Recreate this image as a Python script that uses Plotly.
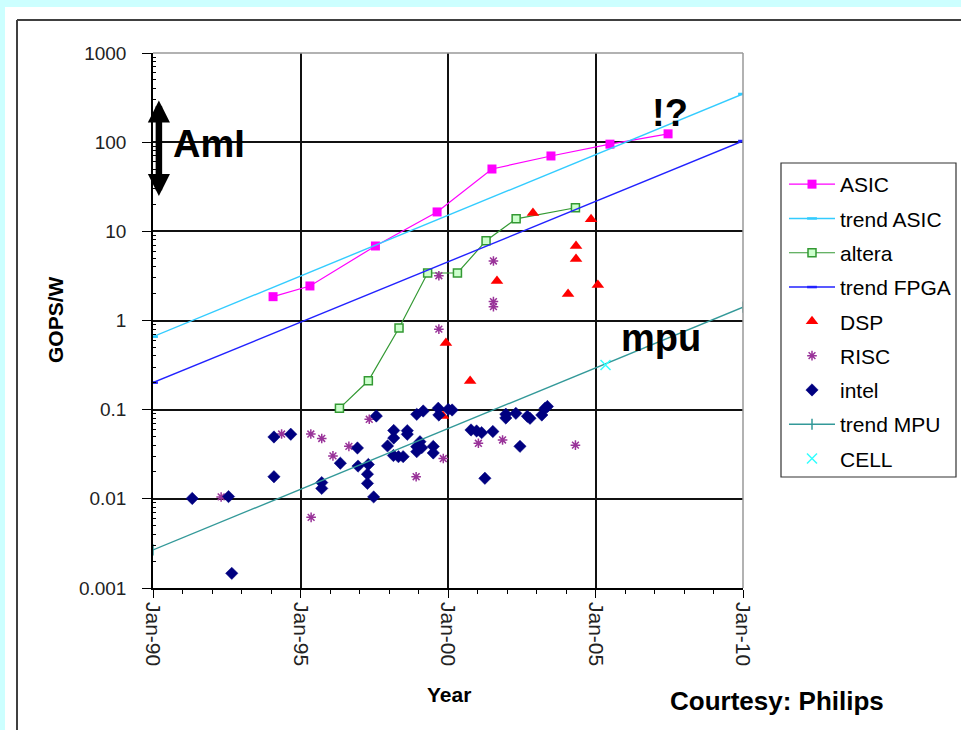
import plotly.graph_objects as go

# ---------------- data ----------------
asic_year = [1994.07, 1995.32, 1997.54, 1999.63, 2001.49, 2003.49, 2005.49, 2007.46]
asic_val = [1.85, 2.44, 6.85, 16.5, 50, 70, 95, 124]

trend_year = [1990, 2010]
trend_asic = [0.658, 347]
trend_fpga = [0.201, 103]
trend_mpu = [0.00267, 1.41]

altera_year = [1996.32, 1997.30, 1998.34, 1999.31, 2000.32, 2001.29, 2002.31, 2004.32]
altera_val = [0.1035, 0.211, 0.824, 3.41, 3.41, 7.85, 13.8, 18.4]

dsp_year = [2002.88, 2004.85, 2004.34, 2004.34, 2001.66, 2004.07, 2005.08, 1999.93, 2000.75, 1999.83]
dsp_val = [16.1, 13.7, 6.85, 4.9, 2.77, 1.98, 2.5, 0.56, 0.21, 0.085]

risc_year = [1992.31, 1994.36, 1995.35, 1995.72, 1996.10, 1996.64, 1997.33, 1995.36, 1998.92,
             1999.84, 2001.03, 2001.85, 2004.32, 1999.69, 1999.69, 2001.54, 2001.54, 2001.54]
risc_val = [0.0105, 0.0533, 0.0533, 0.0475, 0.0303, 0.0388, 0.078, 0.0062, 0.0177,
            0.0283, 0.042, 0.0457, 0.040, 0.80, 3.18, 4.65, 1.63, 1.43]

intel_year = [1991.33, 1992.56, 1992.67, 1994.10, 1994.10, 1994.67, 1995.72, 1995.72, 1996.35,
              1996.93, 1996.95, 1997.30, 1997.27, 1997.27, 1997.48, 1997.57, 1997.95, 1998.16,
              1998.16, 1998.15, 1998.32, 1998.48, 1998.62, 1998.62, 1998.94, 1999.16, 1998.94,
              1998.94, 1999.05, 1999.11, 1999.50, 1999.50, 1999.67, 1999.69, 2000.14, 2000.78,
              2000.97, 2001.14, 2001.52, 2001.25, 2001.96, 2002.30, 2001.96, 2002.69, 2002.78,
              2002.44, 2003.29, 2003.37, 2003.18, 2000.01]
intel_val = [0.0101, 0.0106, 0.00146, 0.0494, 0.0177, 0.0530, 0.0152, 0.0131, 0.0251,
             0.0372, 0.0233, 0.0243, 0.0189, 0.0149, 0.0105, 0.0849, 0.0392, 0.0584,
             0.0481, 0.0306, 0.0297, 0.0297, 0.0581, 0.0530, 0.0887, 0.0966, 0.0385,
             0.0338, 0.0437, 0.0375, 0.0387, 0.0327, 0.1036, 0.0871, 0.0991, 0.0592,
             0.0577, 0.0552, 0.0569, 0.0170, 0.0889, 0.0910, 0.0807, 0.0843, 0.0800,
             0.0388, 0.1036, 0.1086, 0.0871, 0.1009]

cell_year = [2005.34]
cell_val = [0.317]

x_ticks = [1990, 1995, 2000, 2005, 2010]
x_labels = ["Jan-90", "Jan-95", "Jan-00", "Jan-05", "Jan-10"]
x_minor = list(range(1990, 2011))
y_ticks = [0.001, 0.01, 0.1, 1, 10, 100, 1000]
y_labels = ["0.001", "0.01", "0.1", "1", "10", "100", "1000"]
y_minor = [m * d for d in y_ticks[:-1] for m in range(2, 10)]

FONT = "Liberation Sans, Arial, sans-serif"

fig = go.Figure()

def add(name, x, y, mode, color, symbol=None, size=8, lw=1.2, mfill=None, mline=None, mlw=0):
    marker = dict(symbol=symbol, size=size, color=mfill if mfill else color,
                  line=dict(color=mline if mline else color, width=mlw))
    fig.add_trace(go.Scatter(x=x, y=y, name=name, mode=mode, legendgroup=name,
                             line=dict(color=color, width=lw), marker=marker))

add("ASIC", asic_year, asic_val, "lines+markers", "#FF00FF", "square", 9)
add("trend ASIC", trend_year, trend_asic, "lines+markers", "#33CCFF", "line-ew-open", 7, 1.4, mlw=2.5)
add("altera", altera_year, altera_val, "lines+markers", "#339933", "square", 8,
    mfill="#CCFFCC", mline="#339933", mlw=1.5)
add("trend FPGA", trend_year, trend_fpga, "lines+markers", "#2222FF", "line-ew-open", 7, 1.4, mlw=2.5)
add("DSP", dsp_year, dsp_val, "markers", "#FF0000", "triangle-up", 11)
add("RISC", risc_year, risc_val, "markers", "#993399", "asterisk-open", 8, mlw=1.5)
add("intel", intel_year, intel_val, "markers", "#000080", "diamond", 9.5, mline="#000080", mlw=0.5)
add("trend MPU", trend_year, trend_mpu, "lines+markers", "#339999", "line-ns-open", 8, 1.4, mlw=1.5)
add("CELL", cell_year, cell_val, "markers", "#33FFFF", "x-thin-open", 10, mlw=1.5)

W, H = 961, 730
L, R, T, B = 153, 743, 53, 588
pw, ph = R - L, B - T

def px(x):
    return (x - L) / pw

def py(y):
    return (B - y) / ph

shapes = [
    dict(type="rect", xref="paper", yref="paper", x0=px(5), x1=px(W + 20), y0=py(H + 20), y1=py(7),
         fillcolor="white", line=dict(width=0), layer="below"),
    dict(type="line", xref="paper", yref="paper", x0=px(17), x1=px(W + 20), y0=py(20), y1=py(20),
         line=dict(color="#404040", width=2), layer="below"),
    dict(type="line", xref="paper", yref="paper", x0=px(17), x1=px(17), y0=py(20), y1=py(H + 20),
         line=dict(color="#404040", width=2), layer="below"),
    dict(type="line", xref="paper", yref="paper", x0=0, x1=1, y0=1, y1=1,
         line=dict(color="#999999", width=1.5), layer="above"),
    dict(type="line", xref="paper", yref="paper", x0=1, x1=1, y0=0, y1=1,
         line=dict(color="#999999", width=1.5), layer="above"),
    dict(type="rect", xref="paper", yref="paper", x0=px(781), x1=px(956), y0=py(477), y1=py(163),
         fillcolor="white", line=dict(color="#333333", width=1.2), layer="below"),
]

def label(x, y, text, size, angle=0):
    return dict(xref="paper", yref="paper", x=px(x), y=py(y), text=text, showarrow=False,
                xanchor="center", yanchor="middle", textangle=angle,
                font=dict(size=size, color="black", family=FONT))

annotations = [
    label(55, 320, "<b>GOPS/W</b>", 21, -90),
    label(449, 694, "<b>Year</b>", 21),
    label(777, 701, "<b>Courtesy: Philips</b>", 26),
    label(209, 144, "<b>AmI</b>", 38),
    label(670, 113, "<b>!?</b>", 38),
    label(661, 338, "<b>mpu</b>", 38),
    dict(x=1990.2, y=1.396, ax=1990.2, ay=2.484, axref="x", ayref="y", xref="x", yref="y",
         text="", showarrow=True, arrowhead=2, startarrowhead=2, arrowside="end+start",
         arrowwidth=6.5, arrowsize=0.68, startarrowsize=0.68, arrowcolor="black",
         standoff=0, startstandoff=0),
]

fig.update_layout(
    width=W, height=H,
    margin=dict(l=L, r=W - R, t=T, b=H - B, autoexpand=False),
    paper_bgcolor="#CCFFFF",
    plot_bgcolor="white",
    font=dict(family=FONT, size=13, color="#222222"),
    showlegend=True,
    legend=dict(x=px(784), y=py(164), xanchor="left", yanchor="top",
                traceorder="grouped", tracegroupgap=4, bgcolor="rgba(0,0,0,0)",
                font=dict(size=21, color="black", family=FONT), itemwidth=46),
    shapes=shapes,
    annotations=annotations,
)

fig.update_xaxes(
    range=[1990, 2010], tickvals=x_ticks, ticktext=x_labels, tickangle=90,
    showgrid=True, gridcolor="#111111", gridwidth=1.5,
    showline=True, linecolor="black", linewidth=1.5,
    ticks="outside", ticklen=8, tickcolor="black", tickwidth=1.2,
    tickfont=dict(size=21, color="#222222", family=FONT),
    minor=dict(tickvals=x_minor, ticks="outside", ticklen=4, tickcolor="black", showgrid=False),
    zeroline=False,
)
fig.update_yaxes(
    type="log", range=[-3, 3], tickvals=y_ticks, ticktext=y_labels,
    showgrid=True, gridcolor="#111111", gridwidth=1.5,
    showline=True, linecolor="black", linewidth=1.5,
    ticks="outside", ticklen=9, tickcolor="black", tickwidth=1.2,
    ticklabelstandoff=12,
    tickfont=dict(size=19, color="#222222", family=FONT),
    minor=dict(tickvals=y_minor, ticks="inside", ticklen=3, tickcolor="black", showgrid=False),
    zeroline=False,
)

fig.write_html("out.html", config=dict(displayModeBar=False),
               post_script="document.body.style.margin='0';document.body.style.overflow='hidden';")
